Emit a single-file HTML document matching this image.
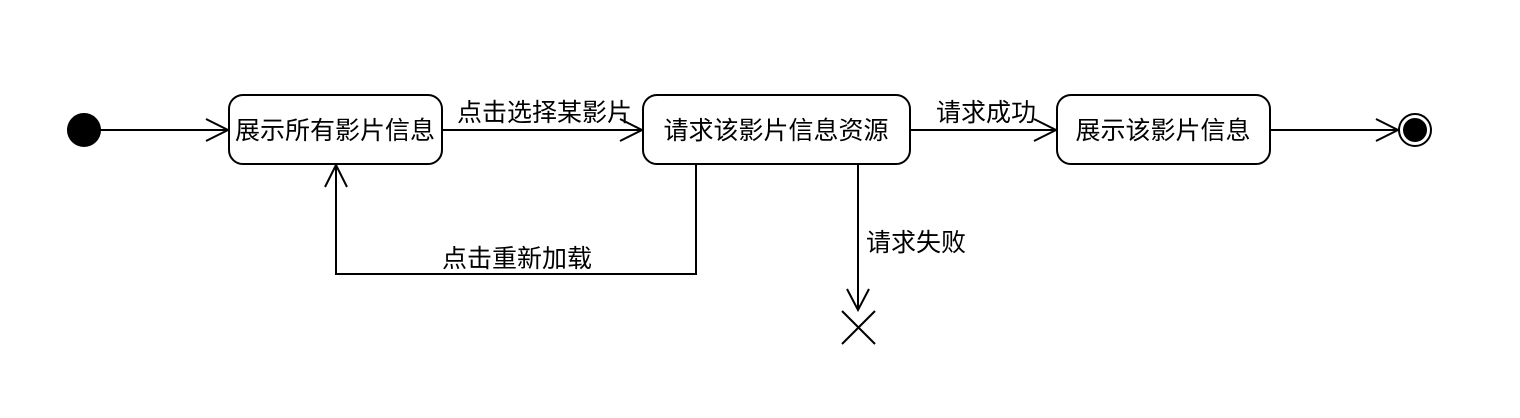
<!DOCTYPE html>
<html><head><meta charset="utf-8"><style>
html,body{margin:0;padding:0;background:#fff;}
svg{display:block;}
text{font-family:"Liberation Sans","Noto Sans CJK SC",sans-serif;font-size:25px;fill:#000;}
</style></head><body>
<svg width="1520" height="418" viewBox="0 0 1520 418" xmlns="http://www.w3.org/2000/svg">
<rect width="1520" height="418" fill="#fff"/>
<g stroke="#000" stroke-width="2" fill="none">
<circle cx="84" cy="130" r="16" fill="#000"/>
<line x1="100" y1="130" x2="228" y2="130"/>
<polyline points="206,119 228,130 206,141"/>
<rect x="229" y="95" width="213" height="69" rx="14"/>
<line x1="442" y1="130" x2="642" y2="130"/>
<polyline points="620,119 642,130 620,141"/>
<rect x="643" y="95" width="267" height="69" rx="14"/>
<line x1="910" y1="130" x2="1056" y2="130"/>
<polyline points="1034,119 1056,130 1034,141"/>
<rect x="1057" y="95" width="213" height="69" rx="14"/>
<line x1="1270" y1="130" x2="1398" y2="130"/>
<polyline points="1376,119 1398,130 1376,141"/>
<circle cx="1415" cy="130" r="16" fill="#fff"/>
<circle cx="1415" cy="130" r="11" fill="#000"/>
<polyline points="696,164 696,274 336,274 336,165"/>
<polyline points="325,187 336,165 347,187"/>
<line x1="858" y1="164" x2="858" y2="310"/>
<polyline points="847,289 858,310 869,289"/>
<line x1="842" y1="311" x2="875" y2="344"/>
<line x1="875" y1="311" x2="842" y2="344"/>
</g>
<text x="335" y="139" text-anchor="middle">展示所有影片信息</text>
<text x="776" y="139" text-anchor="middle">请求该影片信息资源</text>
<text x="1163" y="139" text-anchor="middle">展示该影片信息</text>
<text x="457" y="121">点击选择某影片</text>
<text x="936" y="121">请求成功</text>
<text x="866" y="251">请求失败</text>
<text x="517" y="267" text-anchor="middle">点击重新加载</text>
</svg>
</body></html>
